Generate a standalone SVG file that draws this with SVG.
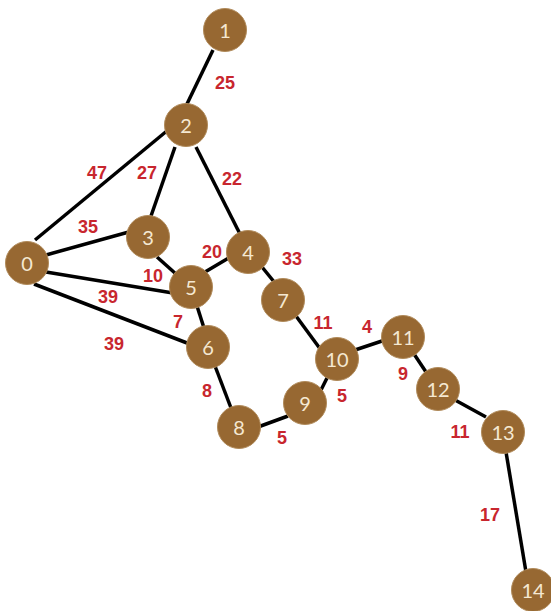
<svg xmlns="http://www.w3.org/2000/svg" width="551" height="611" viewBox="0 0 551 611">
<style>
.e{stroke:#000;stroke-width:3.5;stroke-linecap:butt}
.n circle{fill:#976832;stroke:#b08a5a;stroke-width:1}
.n text{fill:#f5e8d2;font-family:Lato,"Open Sans","Liberation Sans",sans-serif;font-size:20px;text-anchor:middle;dominant-baseline:central}
.w{fill:#c8262e;font-family:"Liberation Sans",Arial,sans-serif;font-weight:bold;font-size:18px;text-anchor:middle;dominant-baseline:central}
</style>
<rect width="551" height="611" fill="#fff"/>
<g id="connectors">
<line class="e" x1="213" y1="50" x2="186" y2="106"/>
<line class="e" x1="35" y1="240" x2="168" y2="130"/>
<line class="e" x1="175" y1="147" x2="151" y2="216"/>
<line class="e" x1="196" y1="147" x2="240" y2="234"/>
<line class="e" x1="46" y1="255" x2="136" y2="230"/>
<line class="e" x1="46" y1="272" x2="185" y2="295"/>
<line class="e" x1="34" y1="284" x2="200" y2="348"/>
<line class="e" x1="157" y1="257" x2="176" y2="274"/>
<line class="e" x1="205" y1="272" x2="232" y2="256"/>
<line class="e" x1="262" y1="267" x2="275" y2="283"/>
<line class="e" x1="197" y1="306" x2="204" y2="328"/>
<line class="e" x1="215" y1="366" x2="231" y2="408"/>
<line class="e" x1="258" y1="427" x2="288" y2="416"/>
<line class="e" x1="321" y1="390" x2="328" y2="376"/>
<line class="e" x1="296" y1="316" x2="321" y2="350"/>
<line class="e" x1="355" y1="350" x2="385" y2="340"/>
<line class="e" x1="414" y1="354" x2="426" y2="372"/>
<line class="e" x1="455" y1="400" x2="486" y2="417"/>
<line class="e" x1="506" y1="452" x2="526" y2="572"/>
</g>
<g id="weights">
<text class="w" x="225" y="83">25</text>
<text class="w" x="97" y="173">47</text>
<text class="w" x="147" y="173">27</text>
<text class="w" x="232" y="179">22</text>
<text class="w" x="88" y="227">35</text>
<text class="w" x="212" y="252">20</text>
<text class="w" x="153" y="276">10</text>
<text class="w" x="108" y="297">39</text>
<text class="w" x="178" y="322">7</text>
<text class="w" x="114" y="344">39</text>
<text class="w" x="292" y="259">33</text>
<text class="w" x="323" y="323">11</text>
<text class="w" x="367" y="327">4</text>
<text class="w" x="403" y="374">9</text>
<text class="w" x="342" y="396">5</text>
<text class="w" x="207" y="391">8</text>
<text class="w" x="282" y="438">5</text>
<text class="w" x="460" y="432">11</text>
<text class="w" x="490" y="515">17</text>
</g>
<g id="node0" class="n"><circle cx="27" cy="263" r="21.5"/><text x="27" y="263">0</text></g>
<g id="node1" class="n"><circle cx="225" cy="30" r="21.5"/><text x="225" y="30">1</text></g>
<g id="node2" class="n"><circle cx="186" cy="125" r="21.5"/><text x="186" y="125">2</text></g>
<g id="node3" class="n"><circle cx="148" cy="237" r="21.5"/><text x="148" y="237">3</text></g>
<g id="node4" class="n"><circle cx="248" cy="252" r="21.5"/><text x="248" y="252">4</text></g>
<g id="node5" class="n"><circle cx="191" cy="287" r="21.5"/><text x="191" y="287">5</text></g>
<g id="node6" class="n"><circle cx="208" cy="347" r="21.5"/><text x="208" y="347">6</text></g>
<g id="node7" class="n"><circle cx="283" cy="300" r="21.5"/><text x="283" y="300">7</text></g>
<g id="node8" class="n"><circle cx="239" cy="427" r="21.5"/><text x="239" y="427">8</text></g>
<g id="node9" class="n"><circle cx="305" cy="403" r="21.5"/><text x="305" y="403">9</text></g>
<g id="node10" class="n"><circle cx="337" cy="359" r="21.5"/><text x="337" y="359">10</text></g>
<g id="node11" class="n"><circle cx="403" cy="337" r="21.5"/><text x="403" y="337">11</text></g>
<g id="node12" class="n"><circle cx="438" cy="389" r="21.5"/><text x="438" y="389">12</text></g>
<g id="node13" class="n"><circle cx="503" cy="432" r="21.5"/><text x="503" y="432">13</text></g>
<g id="node14" class="n"><circle cx="533" cy="590" r="21.5"/><text x="533" y="590">14</text></g>
</svg>
